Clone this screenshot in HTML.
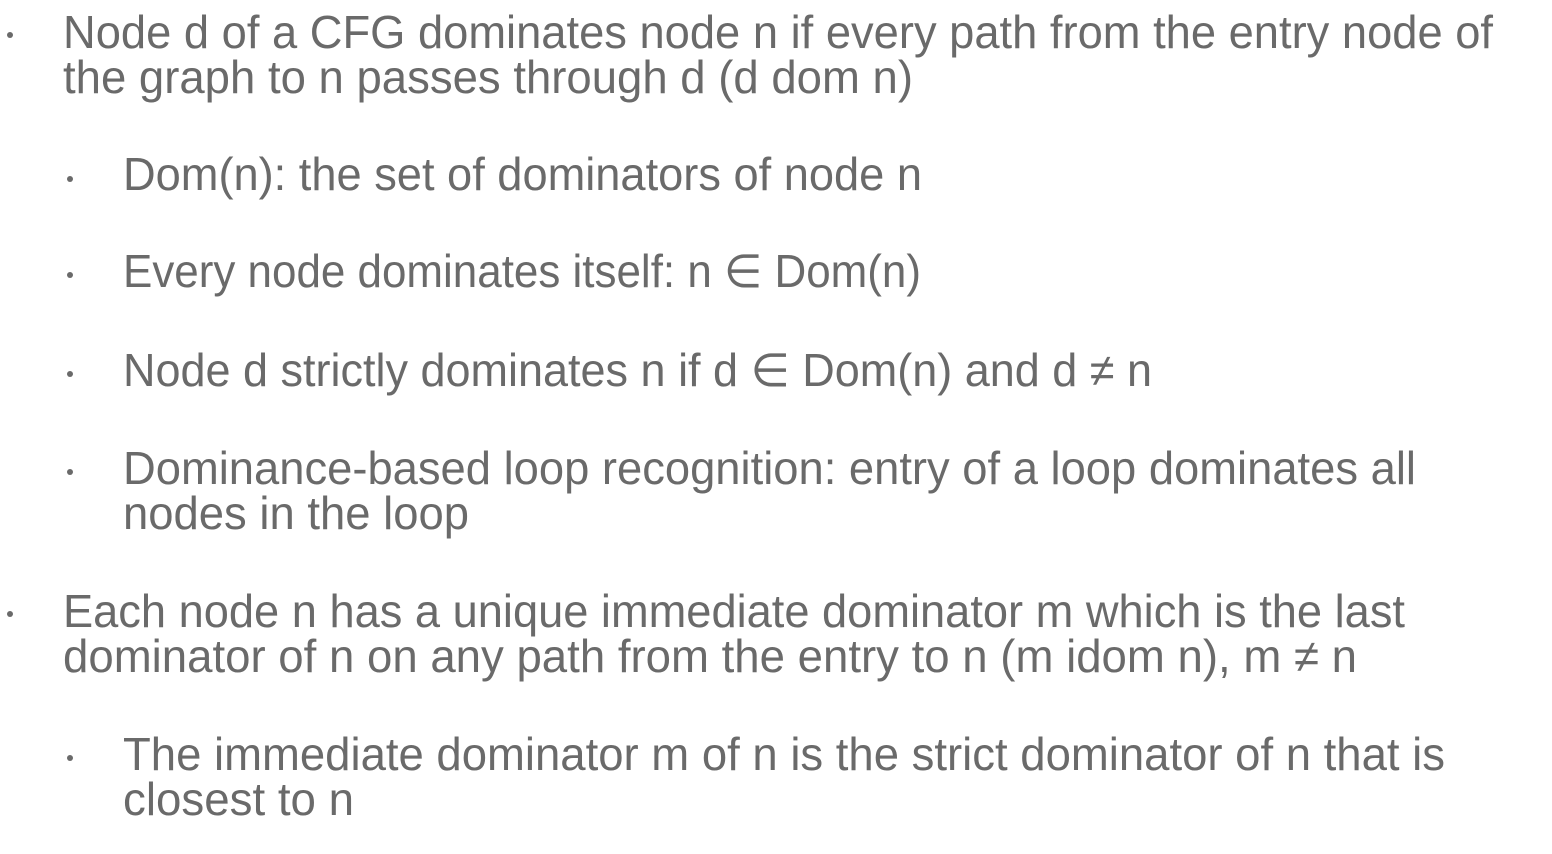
<!DOCTYPE html>
<html><head><meta charset="utf-8"><style>
html,body{margin:0;padding:0;background:#fff;width:1552px;height:854px;overflow:hidden}
text{font-family:"Liberation Sans",sans-serif;font-size:46px;fill:#6a6a6a}
circle{fill:#6a6a6a}
</style></head><body>
<svg width="1552" height="854" xmlns="http://www.w3.org/2000/svg">
<circle cx="10" cy="35" r="3"/>
<circle cx="70" cy="179" r="3"/>
<circle cx="70" cy="275" r="3"/>
<circle cx="70" cy="374" r="3"/>
<circle cx="70" cy="472" r="3"/>
<circle cx="10" cy="614" r="3"/>
<circle cx="70" cy="758" r="3"/>
<text x="63" y="48" textLength="1430" lengthAdjust="spacingAndGlyphs">Node d of a CFG dominates node n if every path from the entry node of</text>
<text x="63" y="93" textLength="850" lengthAdjust="spacingAndGlyphs">the graph to n passes through d (d dom n)</text>
<text x="123" y="190" textLength="799" lengthAdjust="spacingAndGlyphs">Dom(n): the set of dominators of node n</text>
<text x="123" y="287" textLength="798" lengthAdjust="spacingAndGlyphs">Every node dominates itself: n ∈ Dom(n)</text>
<text x="123" y="386" textLength="1029" lengthAdjust="spacingAndGlyphs">Node d strictly dominates n if d ∈ Dom(n) and d ≠ n</text>
<text x="123" y="484" textLength="1293" lengthAdjust="spacingAndGlyphs">Dominance-based loop recognition: entry of a loop dominates all</text>
<text x="123" y="529" textLength="346" lengthAdjust="spacingAndGlyphs">nodes in the loop</text>
<text x="63" y="627" textLength="1342" lengthAdjust="spacingAndGlyphs">Each node n has a unique immediate dominator m which is the last</text>
<text x="63" y="672" textLength="1294" lengthAdjust="spacingAndGlyphs">dominator of n on any path from the entry to n (m idom n), m ≠ n</text>
<text x="123" y="770" textLength="1322" lengthAdjust="spacingAndGlyphs">The immediate dominator m of n is the strict dominator of n that is</text>
<text x="123" y="815" textLength="231" lengthAdjust="spacingAndGlyphs">closest to n</text>
</svg>
</body></html>
